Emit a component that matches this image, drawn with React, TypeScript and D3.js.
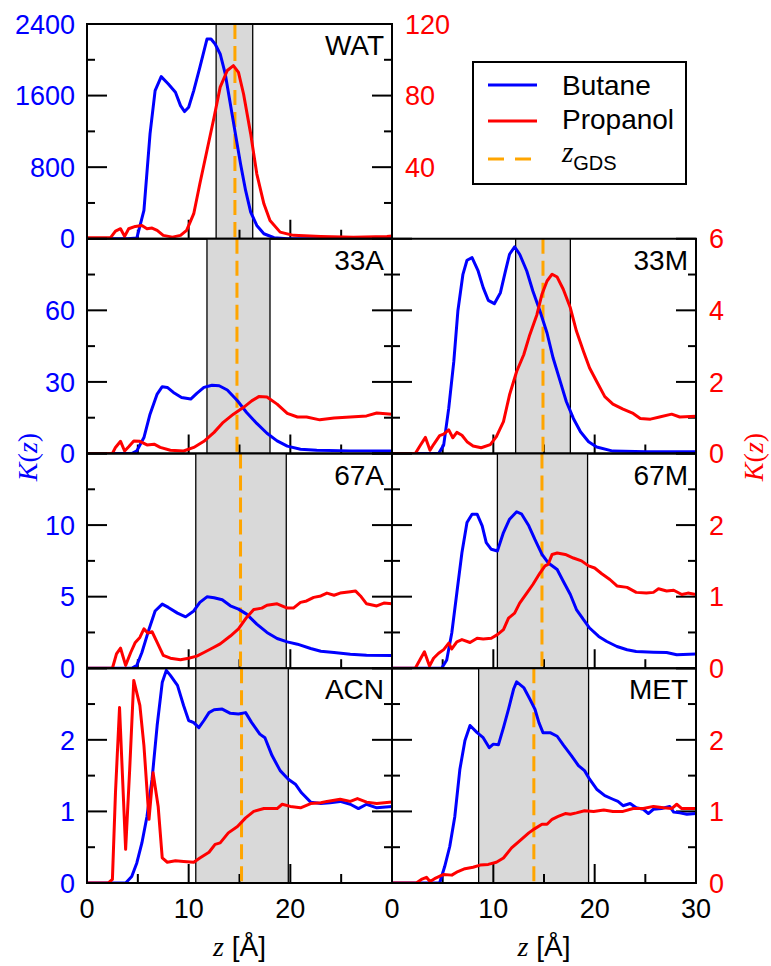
import React from "react";
import * as d3 from "d3";

// K(z) profiles, pairs of [z in Å, K]
const watButane: [number, number][] = [
  [0, 0], [4.0, 0], [4.9, 8], [5.6, 316], [6.2, 1172], [6.7, 1656], [7.3, 1812], [8.0, 1730],
  [8.7, 1637], [9.2, 1488], [9.6, 1421], [10.0, 1470], [10.5, 1656], [11.1, 1916], [11.8, 2232],
  [12.2, 2232], [12.6, 2177], [13.1, 2065], [13.6, 1842], [14.1, 1507], [14.6, 1172], [15.1, 837],
  [15.6, 540], [16.1, 298], [16.7, 149], [17.4, 56], [18.4, 11], [19.7, 0], [30, 0],
];
const watPropanol: [number, number][] = [
  [0, 0.5], [2.3, 0.5], [2.8, 4.3], [3.3, 5.6], [3.7, 1.3], [4.1, 5.6], [4.75, 6.9], [5.4, 7.4],
  [5.9, 5.6], [6.4, 6.0], [6.9, 4.7], [7.5, 1.9], [8.4, 0.9], [9.2, 1.9], [9.8, 4.7], [10.5, 14],
  [11.1, 30.7], [11.8, 49.3], [12.5, 67.9], [13.1, 84.7], [13.8, 94], [14.4, 96.7], [14.9, 93],
  [15.4, 80.9], [16.1, 58.6], [16.7, 36.3], [17.4, 19.5], [18.0, 10.2], [19.0, 3.7], [20.3, 1.9],
  [23, 1.3], [26.2, 0.9], [29.5, 1.3], [30, 1.5],
];
const a33Butane: [number, number][] = [
  [0, 0], [4.4, 0], [4.9, 1.1], [5.6, 6.7], [6.2, 16.5], [6.9, 24.9], [7.4, 28], [7.9, 27.7],
  [8.5, 25.6], [9.3, 23.5], [10.2, 22.8], [10.8, 25.2], [11.5, 27.7], [12.3, 28.6], [13.0, 28.4],
  [13.8, 26.6], [14.8, 22.1], [15.7, 17.2], [16.7, 12.6], [17.7, 8.5], [18.7, 5.3], [19.7, 3.1],
  [21, 1.8], [22.6, 1.4], [25.9, 1.1], [30, 1.1],
];
const a33Propanol: [number, number][] = [
  [0, 0], [2.5, 0], [2.8, 0.17], [3.3, 0.34], [3.7, 0.07], [4.1, 0.19], [4.6, 0.35], [5.2, 0.34],
  [5.9, 0.24], [6.6, 0.26], [7.2, 0.17], [8.2, 0.09], [9.5, 0.07], [10.5, 0.17], [11.5, 0.34],
  [12.5, 0.59], [13.4, 0.87], [14.4, 1.1], [15.4, 1.29], [16.2, 1.47], [16.9, 1.59], [17.7, 1.58],
  [18.7, 1.38], [19.7, 1.12], [20.7, 1.02], [21.6, 1.02], [22.9, 0.94], [24.3, 0.99], [25.9, 1.02],
  [27.5, 1.05], [28.5, 1.13], [30, 1.1],
];
const m33Butane: [number, number][] = [
  [0, 0], [4.6, 0], [5.1, 3.5], [5.6, 19], [6.1, 38.6], [6.5, 59.7], [7.0, 75.1], [7.4, 81],
  [7.9, 82.1], [8.5, 76.5], [9.0, 69.5], [9.5, 64.2], [10.1, 62.8], [10.7, 67.4], [11.2, 76.5],
  [11.6, 83.5], [12.1, 86.6], [12.6, 83.5], [13.3, 76.5], [13.9, 68.1], [14.6, 59.7], [15.3, 50.5],
  [15.9, 40], [16.6, 30.2], [17.2, 21.8], [17.9, 14.7], [18.6, 9.1], [19.4, 4.9], [20.2, 2.7],
  [21.8, 1.0], [25.1, 0.7], [30, 0.7],
];
const m33Propanol: [number, number][] = [
  [0, 0], [2.3, 0], [2.8, 0.23], [3.3, 0.45], [3.75, 0.09], [4.1, 0.25], [4.7, 0.5], [5.1, 0.54],
  [5.6, 0.66], [6.0, 0.44], [6.4, 0.59], [6.9, 0.51], [7.4, 0.33], [8.0, 0.21], [8.8, 0.16],
  [9.7, 0.25], [10.3, 0.47], [11.0, 0.89], [11.6, 1.64], [12.3, 2.29], [13.0, 2.76], [13.6, 3.32],
  [14.3, 3.88], [14.8, 4.45], [15.3, 4.82], [15.8, 5.01], [16.3, 4.93], [16.9, 4.59], [17.6, 4.07],
  [18.2, 3.42], [18.9, 2.85], [19.5, 2.39], [20.2, 2.01], [21.0, 1.59], [21.8, 1.38], [22.8, 1.24],
  [23.8, 1.12], [24.5, 0.98], [25.5, 0.96], [26.4, 1.02], [27.6, 1.1], [28.4, 1.02], [30, 1.04],
];
const a67Butane: [number, number][] = [
  [0, 0], [4.4, 0], [4.9, 0.2], [5.4, 1.1], [6.1, 2.73], [6.7, 4.0], [7.4, 4.48], [8.0, 4.25],
  [8.9, 3.85], [9.7, 3.59], [10.5, 4.0], [11.1, 4.6], [11.8, 4.99], [12.5, 4.92], [13.3, 4.78],
  [14.1, 4.36], [14.9, 4.13], [15.7, 3.78], [16.7, 3.08], [17.7, 2.5], [18.7, 2.08], [19.7, 1.84],
  [20.7, 1.68], [22, 1.38], [23, 1.19], [24.3, 1.1], [25.9, 0.98], [27.5, 0.91], [30, 0.89],
];
const a67Propanol: [number, number][] = [
  [0, 0], [2.5, 0], [2.9, 0.2], [3.3, 0.28], [3.8, 0.04], [4.3, 0.22], [4.75, 0.36], [5.2, 0.43],
  [5.6, 0.55], [6.0, 0.49], [6.4, 0.51], [6.9, 0.36], [7.5, 0.18], [8.2, 0.14], [9.2, 0.12],
  [10.0, 0.14], [10.8, 0.17], [11.5, 0.22], [12.3, 0.28], [13.1, 0.34], [14.1, 0.45], [14.9, 0.55],
  [15.7, 0.71], [16.4, 0.82], [17.2, 0.84], [17.7, 0.88], [18.7, 0.9], [19.7, 0.84], [20.3, 0.84],
  [21.0, 0.92], [21.6, 0.94], [22.3, 0.99], [23.0, 1.01], [23.6, 1.05], [24.3, 1.02], [24.9, 1.05],
  [25.9, 1.07], [26.4, 1.08], [26.9, 1.01], [27.5, 0.9], [28.5, 0.87], [29.2, 0.91], [30, 0.9],
];
const m67Butane: [number, number][] = [
  [0, 0], [4.9, 0], [5.4, 0.58], [5.9, 2.46], [6.4, 5.27], [6.9, 8.07], [7.4, 10.18], [7.9, 10.76],
  [8.4, 10.76], [8.9, 9.95], [9.3, 8.78], [9.8, 8.31], [10.4, 8.19], [11.0, 9.48], [11.6, 10.41],
  [12.3, 10.93], [12.8, 10.76], [13.5, 9.95], [14.1, 9.0], [14.8, 7.96], [15.4, 7.37], [16.3, 6.9],
  [16.9, 6.08], [17.6, 5.15], [18.2, 4.1], [18.9, 3.39], [19.5, 2.81], [20.4, 2.22], [21.2, 1.87],
  [22.2, 1.52], [23.2, 1.29], [24.1, 1.17], [25.8, 1.12], [27.1, 1.1], [28.1, 0.94], [30, 1.0],
];
const m67Propanol: [number, number][] = [
  [0, 0], [2.3, 0], [2.8, 0.13], [3.2, 0.23], [3.7, 0.03], [4.1, 0.14], [4.6, 0.21], [5.1, 0.26],
  [5.6, 0.35], [5.9, 0.27], [6.4, 0.37], [6.9, 0.4], [7.7, 0.36], [8.4, 0.42], [9.0, 0.41],
  [9.8, 0.42], [10.4, 0.47], [11.0, 0.54], [11.5, 0.7], [12.1, 0.77], [12.6, 0.91], [13.3, 1.05],
  [13.9, 1.17], [14.6, 1.33], [15.1, 1.43], [15.4, 1.45], [15.8, 1.59], [16.3, 1.61], [17.1, 1.59],
  [17.9, 1.54], [18.7, 1.5], [19.4, 1.43], [20.0, 1.4], [20.7, 1.32], [21.5, 1.24], [22.2, 1.15],
  [23.2, 1.13], [24.1, 1.06], [25.1, 1.05], [25.8, 1.06], [26.3, 1.11], [27.1, 1.08], [27.8, 1.09],
  [28.6, 1.03], [29.2, 1.05], [30, 1.03],
];
const acnButane: [number, number][] = [
  [0, 0], [3.8, 0], [4.4, 0.09], [4.9, 0.28], [5.4, 0.56], [5.9, 0.93], [6.4, 1.45], [6.9, 2.2],
  [7.4, 2.8], [7.8, 2.97], [8.2, 2.9], [8.9, 2.76], [9.5, 2.48], [10.0, 2.27], [10.5, 2.24],
  [11.0, 2.17], [11.5, 2.27], [12.0, 2.38], [12.5, 2.42], [13.3, 2.43], [14.1, 2.37], [14.9, 2.36],
  [15.6, 2.38], [16.2, 2.24], [17.0, 2.08], [17.5, 2.03], [18.2, 1.78], [19.0, 1.57], [19.8, 1.45],
  [20.5, 1.38], [21.1, 1.26], [22.0, 1.13], [23.0, 1.11], [23.9, 1.12], [24.9, 1.14], [25.9, 1.1],
  [26.7, 1.04], [27.5, 1.1], [28.5, 1.05], [30, 1.07],
];
const acnPropanol: [number, number][] = [
  [0, 0], [2.1, 0], [2.5, 0.05], [2.8, 1.26], [3.2, 2.45], [3.8, 0.47], [4.2, 1.59], [4.6, 2.83],
  [5.2, 2.48], [5.6, 1.92], [6.1, 0.89], [6.5, 1.54], [7.0, 1.07], [7.4, 0.35], [7.9, 0.29],
  [8.7, 0.31], [9.5, 0.3], [10.5, 0.29], [11.1, 0.35], [12.0, 0.43], [12.6, 0.54], [13.1, 0.56],
  [13.9, 0.7], [14.8, 0.79], [15.6, 0.91], [16.4, 1.0], [17.4, 1.04], [18.7, 1.04], [19.2, 1.1],
  [20.0, 1.07], [21.0, 1.05], [22.0, 1.11], [23.0, 1.12], [23.6, 1.14], [24.9, 1.17], [25.9, 1.14],
  [26.6, 1.18], [27.5, 1.13], [28.5, 1.11], [30, 1.13],
];
const metButane: [number, number][] = [
  [0, 0], [4.7, 0], [5.2, 0.23], [5.7, 0.51], [6.2, 0.93], [6.7, 1.59], [7.2, 1.99], [7.7, 2.2],
  [8.4, 2.1], [9.0, 2.03], [9.6, 1.89], [10.0, 1.94], [10.5, 1.93], [11.0, 2.17], [11.5, 2.43],
  [12.0, 2.71], [12.3, 2.81], [13.0, 2.73], [13.6, 2.57], [14.1, 2.43], [14.5, 2.24], [14.9, 2.1],
  [15.6, 2.1], [16.3, 2.05], [16.9, 1.93], [17.7, 1.78], [18.4, 1.64], [19.0, 1.57], [19.5, 1.45],
  [20.2, 1.31], [21.0, 1.22], [21.8, 1.17], [22.3, 1.14], [22.8, 1.08], [23.5, 1.11], [24.1, 1.05],
  [24.8, 1.03], [25.3, 0.97], [25.8, 1.03], [26.6, 1.04], [27.4, 1.07], [27.8, 0.99], [28.4, 0.98],
  [29.1, 0.96], [30, 0.97],
];
const metPropanol: [number, number][] = [
  [0, 0], [2.4, 0], [2.9, 0.05], [3.4, 0.08], [3.75, 0.02], [4.2, 0.06], [5.1, 0.12], [5.9, 0.11],
  [6.5, 0.16], [7.2, 0.2], [8.0, 0.22], [8.7, 0.25], [9.5, 0.26], [10.3, 0.29], [11.0, 0.35],
  [11.8, 0.49], [12.6, 0.59], [13.5, 0.7], [14.1, 0.76], [14.8, 0.82], [15.3, 0.82], [15.8, 0.89],
  [16.4, 0.93], [17.1, 0.97], [17.6, 0.96], [18.2, 0.98], [19.0, 1.01], [19.9, 1.0], [20.9, 1.02],
  [21.8, 1.0], [22.8, 1.0], [23.8, 1.04], [24.8, 1.04], [25.8, 1.07], [26.8, 1.05], [27.6, 1.04],
  [28.1, 1.1], [28.6, 1.04], [29.2, 1.04], [30, 1.04],
];

// y-axis ranges and labelled values per row
const butaneMax = [2400, 90, 15, 3];
const propanolMax = [120, 6, 3, 3];
const butaneLabels = [[0, 800, 1600, 2400], [0, 30, 60], [0, 5, 10], [0, 1, 2]];
const propanolLabels = [[40, 80, 120], [0, 2, 4, 6], [0, 1, 2], [0, 1, 2]];

const panelNames = ["WAT", "33A", "33M", "67A", "67M", "ACN", "MET"];
const panelCols = [0, 0, 1, 0, 1, 0, 1];
const panelRows = [0, 1, 1, 2, 2, 3, 3];
const butaneSeries = [watButane, a33Butane, m33Butane, a67Butane, m67Butane, acnButane, metButane];
const propanolSeries = [watPropanol, a33Propanol, m33Propanol, a67Propanol, m67Propanol, acnPropanol, metPropanol];
const bandStart = [12.7, 11.8, 12.2, 10.7, 10.4, 10.7, 8.55];
const bandEnd = [16.3, 18.0, 17.6, 19.6, 19.3, 19.8, 19.4];
const zGds = [14.55, 14.75, 14.9, 15.1, 14.8, 15.2, 14.0];

const xMajor = [0, 10, 20, 30];
const xMinor = [5, 15, 25];

const W = 771;
const H = 966;
const colX = [87, 392, 696];
const top = 24;
const bottom = 883;
const rowH = (bottom - top) / 4;

const SANS = "'Liberation Sans', Arial, Helvetica, sans-serif";
const SERIF = "'Liberation Serif', 'Times New Roman', serif";
const BLUE = "#0000ff";
const RED = "#ff0000";
const ORANGE = "#ffa500";

const KLabel = ({ x, y, color }: { x: number; y: number; color: string }) => (
  <text
    transform={`translate(${x},${y}) rotate(-90)`}
    textAnchor="middle"
    dy="0.35em"
    fontFamily={SERIF}
    fontSize={28}
    fill={color}
  >
    <tspan fontStyle="italic">K</tspan>(<tspan fontStyle="italic">z</tspan>)
  </text>
);

const Panel = ({ i }: { i: number }) => {
  const col = panelCols[i];
  const row = panelRows[i];
  const x0 = colX[col];
  const x1 = colX[col + 1];
  const y0 = top + row * rowH;
  const y1 = y0 + rowH;

  const x = d3.scaleLinear().domain([0, 30]).range([x0, x1]);
  const yB = d3.scaleLinear().domain([0, butaneMax[row]]).range([y1, y0]);
  const yP = d3.scaleLinear().domain([0, propanolMax[row]]).range([y1, y0]);

  const lineB = d3.line<[number, number]>().x((d) => x(d[0])).y((d) => yB(d[1]));
  const lineP = d3.line<[number, number]>().x((d) => x(d[0])).y((d) => yP(d[1]));

  const yTicks = d3.range(7).map((k) => (k * butaneMax[row]) / 6);
  const clipId = `clip-${i}`;

  const showLeft = col === 0;
  const showRight = col === 1 || i === 0;

  return (
    <g>
      <defs>
        <clipPath id={clipId}>
          <rect x={x0} y={y0} width={x1 - x0} height={y1 - y0} />
        </clipPath>
      </defs>
      {/* interface region */}
      <rect
        x={x(bandStart[i])}
        y={y0}
        width={x(bandEnd[i]) - x(bandStart[i])}
        height={rowH}
        fill="#d9d9d9"
      />
      <line x1={x(bandStart[i])} x2={x(bandStart[i])} y1={y0} y2={y1} stroke="#000" strokeWidth={1.3} />
      <line x1={x(bandEnd[i])} x2={x(bandEnd[i])} y1={y0} y2={y1} stroke="#000" strokeWidth={1.3} />

      {/* ticks */}
      {xMajor.map((t) => (
        <line key={`xM${t}`} x1={x(t)} x2={x(t)} y1={y1} y2={y1 - 19} stroke="#000" strokeWidth={2} />
      ))}
      {xMinor.map((t) => (
        <line key={`xm${t}`} x1={x(t)} x2={x(t)} y1={y1} y2={y1 - 9} stroke="#000" strokeWidth={2} />
      ))}
      {yTicks.map((t, k) => {
        const len = k % 2 === 0 ? 20 : 8;
        return (
          <g key={`y${k}`}>
            <line x1={x0} x2={x0 + len} y1={yB(t)} y2={yB(t)} stroke="#000" strokeWidth={2} />
            <line x1={x1} x2={x1 - len} y1={yB(t)} y2={yB(t)} stroke="#000" strokeWidth={2} />
          </g>
        );
      })}

      {/* Gibbs dividing surface */}
      <line
        x1={x(zGds[i])}
        x2={x(zGds[i])}
        y1={y0}
        y2={y1}
        stroke={ORANGE}
        strokeWidth={3}
        strokeDasharray="15,7"
      />

      <g clipPath={`url(#${clipId})`}>
        <path d={lineB(butaneSeries[i]) ?? ""} fill="none" stroke={BLUE} strokeWidth={3} strokeLinejoin="round" />
        <path d={lineP(propanolSeries[i]) ?? ""} fill="none" stroke={RED} strokeWidth={3} strokeLinejoin="round" />
      </g>

      <rect x={x0} y={y0} width={x1 - x0} height={rowH} fill="none" stroke="#000" strokeWidth={2} />

      <text x={x1 - 8} y={y0 + 31} textAnchor="end" fontFamily={SANS} fontSize={28} fill="#000">
        {panelNames[i]}
      </text>

      {showLeft &&
        butaneLabels[row].map((t) => (
          <text key={`bl${t}`} x={x0 - 12} y={yB(t)} dy="0.36em" textAnchor="end" fontFamily={SANS} fontSize={27} fill={BLUE}>
            {t}
          </text>
        ))}
      {showRight &&
        propanolLabels[row].map((t) => (
          <text key={`pl${t}`} x={x1 + 13} y={yP(t)} dy="0.36em" textAnchor="start" fontFamily={SANS} fontSize={27} fill={RED}>
            {t}
          </text>
        ))}

      {row === 3 &&
        xMajor
          .filter((t) => !(col === 0 && t === 30))
          .map((t) => (
            <text key={`xl${t}`} x={x(t)} y={918} textAnchor="middle" fontFamily={SANS} fontSize={27} fill="#000">
              {t}
            </text>
          ))}
    </g>
  );
};

const Legend = () => {
  const lx0 = 488;
  const lx1 = 537;
  const tx = 562;
  return (
    <g>
      <rect x={473} y={62} width={213} height={122} fill="#fff" stroke="#000" strokeWidth={2} />
      <line x1={lx0} x2={lx1} y1={85} y2={85} stroke={BLUE} strokeWidth={3} />
      <text x={tx} y={95} fontFamily={SANS} fontSize={28}>Butane</text>
      <line x1={lx0} x2={lx1} y1={121} y2={121} stroke={RED} strokeWidth={3} />
      <text x={tx} y={129} fontFamily={SANS} fontSize={28}>Propanol</text>
      <line x1={lx0} x2={lx1} y1={159} y2={159} stroke={ORANGE} strokeWidth={3} strokeDasharray="16,11" />
      <text x={tx} y={162} fontFamily={SERIF} fontStyle="italic" fontSize={29}>
        z
        <tspan fontFamily={SANS} fontStyle="normal" fontSize={20} dy={8}>GDS</tspan>
      </text>
    </g>
  );
};

const App = () => {
  return (
    <div style={{ position: "absolute", left: 0, top: 0 }}>
      <svg width={W} height={H} viewBox={`0 0 ${W} ${H}`} style={{ display: "block", background: "#fff" }}>
        {panelNames.map((_, i) => (
          <Panel key={panelNames[i]} i={i} />
        ))}
        <Legend />
        <KLabel x={27} y={457} color={BLUE} />
        <KLabel x={753} y={457} color={RED} />
        {[0, 1].map((c) => (
          <text
            key={`xt${c}`}
            x={(colX[c] + colX[c + 1]) / 2}
            y={956}
            textAnchor="middle"
            fontFamily={SANS}
            fontSize={28}
          >
            <tspan fontFamily={SERIF} fontStyle="italic">z</tspan> [Å]
          </text>
        ))}
      </svg>
    </div>
  );
};

export default App;
